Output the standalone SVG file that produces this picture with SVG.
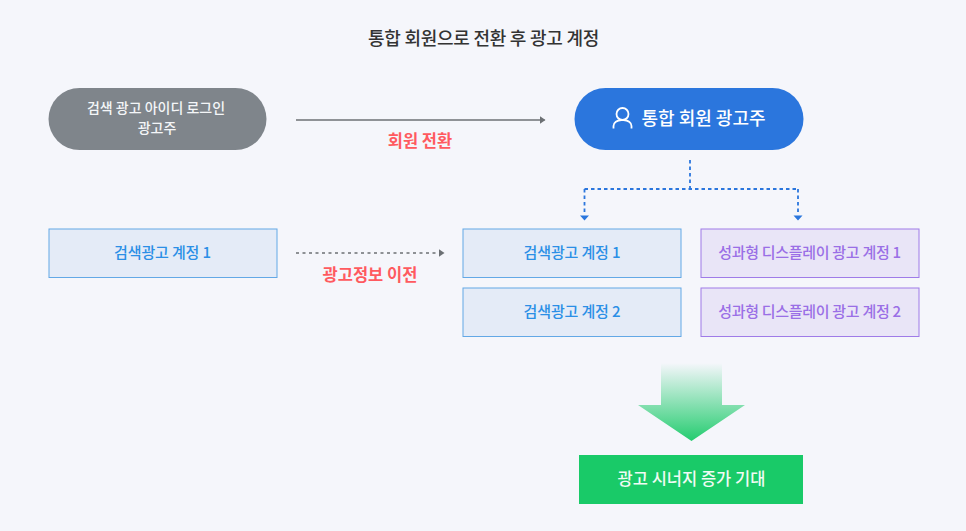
<svg xmlns="http://www.w3.org/2000/svg" width="966" height="531" viewBox="0 0 966 531">
<style>
text{font-family:"Noto Sans CJK KR","Noto Sans",sans-serif;text-anchor:middle;font-weight:500}
.acc{fill:#e4ebf7;stroke:#63a8e6;stroke-width:1}
.dsp{fill:#e9e5f7;stroke:#9f7be8;stroke-width:1}
.b{fill:#2b8fe6;font-size:15px;letter-spacing:-.15px}
.p{fill:#9a6fe6;font-size:15px;letter-spacing:-.3px}
.r{fill:#ff5a5f;font-size:16.500px;font-weight:700}
.w{fill:#f4f6f8;font-size:14px}
</style>
<defs>
<linearGradient id="g" x1="0" y1="0" x2="0" y2="1"><stop offset="0" stop-color="#19ca68" stop-opacity="0"/><stop offset="1" stop-color="#19ca68" stop-opacity=".95"/></linearGradient>
<marker id="ag" markerWidth="6" markerHeight="8" refX="5" refY="4" orient="auto" markerUnits="userSpaceOnUse"><path d="M0 0L6 4L0 8Z" fill="#6c7074"/></marker>
</defs>
<rect width="966" height="531" fill="#f5f6fb"/>
<text x="483.500" y="45" font-size="18" fill="#333" letter-spacing="-.25">통합 회원으로 전환 후 광고 계정</text>
<g id="connectors" fill="none">
<path d="M296 120H544.500" stroke="#6c7074" stroke-width="1.500" marker-end="url(#ag)"/>
<path d="M296 253H443.500" stroke="#6c7074" stroke-width="1.500" stroke-dasharray="3 3.500" marker-end="url(#ag)"/>
<path d="M690 160V189M584.500 189H798M584.500 189V215M798 189V215" stroke="#2b76dd" stroke-width="1.800" stroke-dasharray="3.500 3"/>
<path d="M580 215.500H589L584.500 220.500ZM793.500 215.500H802.500L798 220.500Z" fill="#2b76dd"/>
</g>
<g id="n-old"><rect x="48.500" y="88" width="218" height="62" rx="31" fill="#7f858b"/><text class="w" x="156" y="113">검색 광고 아이디 로그인</text><text class="w" x="157" y="133">광고주</text></g>
<g id="n-new"><rect x="574.500" y="88" width="229" height="62" rx="31" fill="#2b76dd"/>
<circle cx="622.500" cy="114" r="6" fill="none" stroke="#fff" stroke-width="1.800"/><path d="M613.500 128.500V126a8 6 0 0 1 8-6h2a8 6 0 0 1 8 6v2.500" fill="none" stroke="#fff" stroke-width="1.800"/>
<text x="703.500" y="124.500" font-size="18" fill="#fff">통합 회원 광고주</text></g>
<text class="r" x="420" y="147">회원 전환</text>
<text class="r" x="370" y="280.500">광고정보 이전</text>
<g id="n-a0"><rect class="acc" x="49" y="229" width="228" height="48.500"/><text class="b" x="162.500" y="258">검색광고 계정 1</text></g>
<g id="n-a1"><rect class="acc" x="463" y="229" width="218" height="48.500"/><text class="b" x="572" y="258">검색광고 계정 1</text></g>
<g id="n-a2"><rect class="acc" x="463" y="288" width="218" height="48.500"/><text class="b" x="572" y="317">검색광고 계정 2</text></g>
<g id="n-d1"><rect class="dsp" x="701" y="229" width="218" height="48.500"/><text class="p" x="809.500" y="258">성과형 디스플레이 광고 계정 1</text></g>
<g id="n-d2"><rect class="dsp" x="701" y="288" width="218" height="48.500"/><text class="p" x="809.500" y="317">성과형 디스플레이 광고 계정 2</text></g>
<path d="M661 363H722V405H745L691.500 441L638 405H661Z" fill="url(#g)"/>
<g id="n-syn"><rect x="579" y="455" width="224" height="49" fill="#19ca68"/><text x="691.500" y="484.500" font-size="16.500" fill="#f0fbf4">광고 시너지 증가 기대</text></g>
</svg>
